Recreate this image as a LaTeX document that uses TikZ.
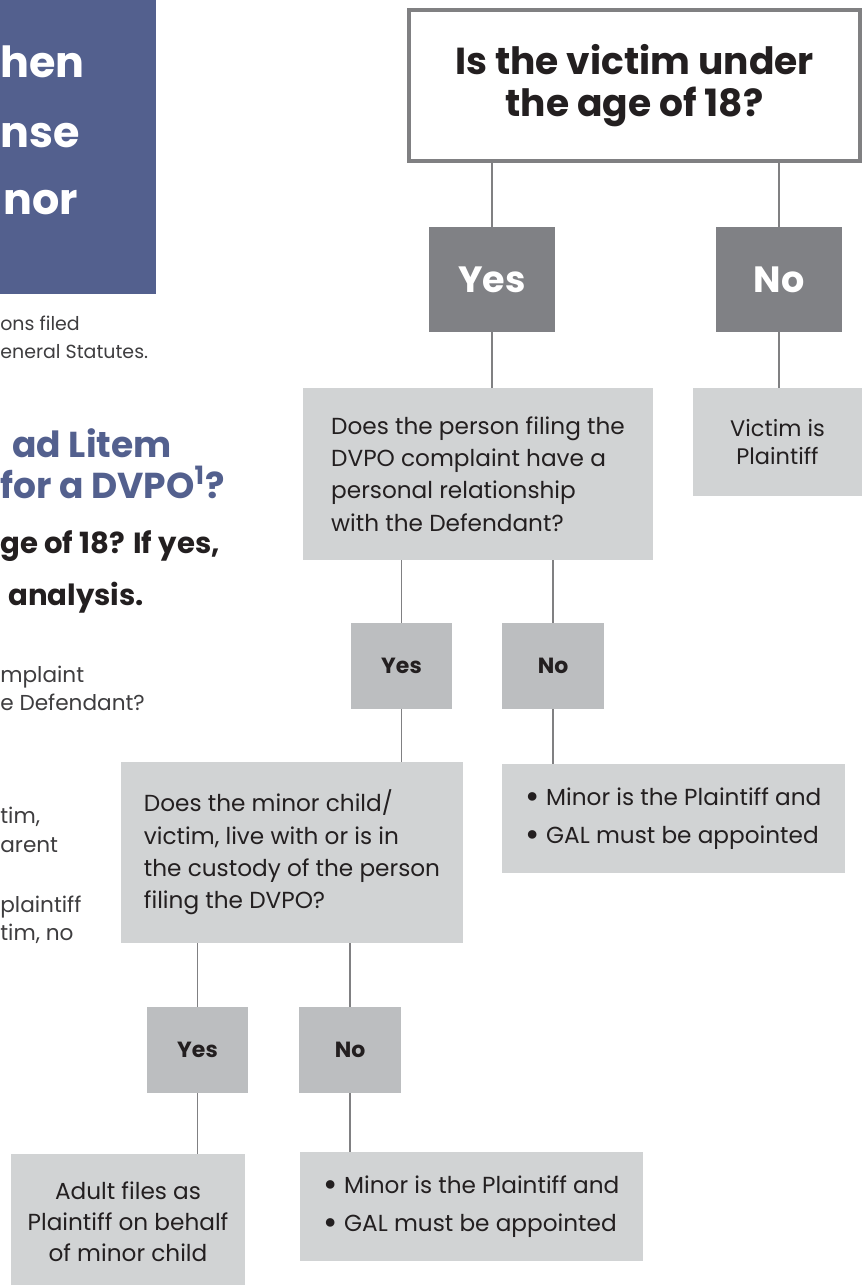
\documentclass[tikz,border=0pt]{standalone}
\usepackage{graphicx}
\usepackage{fontspec}
\setmainfont{Poppins}

\definecolor{panelblue}{RGB}{83,96,142}
\definecolor{darkbox}{RGB}{128,129,133}
\definecolor{midbox}{RGB}{188,190,192}
\definecolor{lightbox}{RGB}{209,211,212}
\definecolor{linegray}{RGB}{128,128,130}
\definecolor{inktext}{RGB}{35,31,32}
\definecolor{sidetext}{RGB}{62,61,63}

\newcommand{\listdot}{\raisebox{-0.15em}{\scalebox{1.5}{\textbullet}}}

\tikzset{
	bigq/.style={draw=linegray,line width=2.3pt,fill=white,align=center,
		minimum width=9.02cm,minimum height=3.02cm,text=inktext,
		font=\fontsize{21.4}{23.8}\selectfont\bfseries},
	bigans/.style={fill=darkbox,minimum width=2.52cm,minimum height=2.1cm,
		text=white,font=\fontsize{20.8}{24}\selectfont\bfseries},
	smallans/.style={fill=midbox,minimum width=2.03cm,minimum height=1.72cm,
		text=inktext,font=\fontsize{12.5}{15}\selectfont\bfseries},
	askbox/.style={fill=lightbox,align=left,text=inktext,
		font=\fontsize{13.2}{18.4}\selectfont},
	outbox/.style={fill=lightbox,align=center,text=inktext,
		font=\fontsize{13.2}{17.6}\selectfont},
	link/.style={draw=linegray,line width=1.1pt},
	sidenote/.style={anchor=base west,inner sep=0pt,text=sidetext,
		font=\fontsize{12.3}{14}\selectfont}
}

\begin{document}
\begin{tikzpicture}[x=0.02cm,y=-0.02cm]
	\useasboundingbox (0,0) rectangle (862,1285);

	% cut-off page on the left
	\fill[panelblue] (0,0) rectangle (156,294);
	\begin{scope}[every node/.style={anchor=base west,inner sep=0pt,text=white,
			font=\fontsize{24.4}{30}\selectfont\bfseries}]
		\node (headA) at (0,77) {hen};
		\node (headB) at (0,147) {nse};
		\node (headC) at (3,214) {nor};
	\end{scope}

	\node[sidenote,font=\fontsize{10.8}{14}\selectfont] (introA) at (0,330) {ons filed};
	\node[sidenote,font=\fontsize{10.8}{14}\selectfont] (introB) at (0,358) {eneral Statutes.};

	\begin{scope}[every node/.style={anchor=base west,inner sep=0pt,text=panelblue,
			font=\fontsize{20.5}{24}\selectfont\bfseries}]
		\node (askA) at (12,457) {ad Litem};
		\node (askB) at (0,498) {for a DVPO\textsuperscript{1}?};
	\end{scope}

	\begin{scope}[every node/.style={anchor=base west,inner sep=0pt,text=inktext,
			font=\fontsize{16.6}{20}\selectfont\bfseries}]
		\node (stepA) at (0,553) {ge of 18? If yes,};
		\node (stepB) at (8,605) {analysis.};
	\end{scope}

	\node[sidenote] (noteA) at (0,682) {mplaint};
	\node[sidenote] (noteB) at (0,710) {e Defendant?};
	\node[sidenote] (noteC) at (0,823) {tim,};
	\node[sidenote] (noteD) at (0,852) {arent};
	\node[sidenote] (noteE) at (0,912) {plaintiff};
	\node[sidenote] (noteF) at (0,940) {tim, no};

	% flow chart
	\node[bigq] (q0) at (634.5,85.5) {Is the victim under\\the age of 18?};

	\node[bigans] (yes1) at (492,279.5) {Yes};
	\node[bigans] (no1) at (779,279.5) {No};

	\node[askbox,minimum width=7cm,minimum height=3.44cm] (q1) at (478,474)
		{Does the person filing the\\DVPO complaint have a\\personal relationship\\with the Defendant?};
	\node[outbox,minimum width=3.38cm,minimum height=2.16cm,
		font=\fontsize{12.8}{16.4}\selectfont] (vic) at (777.5,442) {Victim is\\Plaintiff};

	\node[smallans] (yes2) at (401.5,666) {Yes};
	\node[smallans] (no2) at (553,666) {No};

	\node[askbox,minimum width=6.84cm,minimum height=3.62cm] (q2) at (292,852.5)
		{Does the minor child/\\victim, live with or is in\\the custody of the person\\filing the DVPO?};
	\node[askbox,minimum width=6.86cm,minimum height=2.18cm,
		font=\fontsize{13.2}{21.5}\selectfont] (res1) at (673.5,818.5)
		{\listdot\ Minor is the Plaintiff and\\\listdot\ GAL must be appointed};

	\node[smallans] (yes3) at (197.5,1050) {Yes};
	\node[smallans] (no3) at (350,1050) {No};

	\node[outbox,minimum width=4.68cm,minimum height=2.72cm] (adult) at (128,1222)
		{Adult files as\\Plaintiff on behalf\\of minor child};
	\node[askbox,minimum width=6.86cm,minimum height=2.18cm,
		font=\fontsize{13.2}{21.5}\selectfont] (res2) at (471.5,1206.5)
		{\listdot\ Minor is the Plaintiff and\\\listdot\ GAL must be appointed};

	\draw[link] (yes1.north |- q0.south) -- (yes1.north);
	\draw[link] (no1.north |- q0.south) -- (no1.north);
	\draw[link] (yes1.south) -- (yes1.south |- q1.north);
	\draw[link] (no1.south) -- (no1.south |- vic.north);
	\draw[link] (yes2.north |- q1.south) -- (yes2.north);
	\draw[link] (no2.north |- q1.south) -- (no2.north);
	\draw[link] (yes2.south) -- (yes2.south |- q2.north);
	\draw[link] (no2.south) -- (no2.south |- res1.north);
	\draw[link] (yes3.north |- q2.south) -- (yes3.north);
	\draw[link] (no3.north |- q2.south) -- (no3.north);
	\draw[link] (yes3.south) -- (yes3.south |- adult.north);
	\draw[link] (no3.south) -- (no3.south |- res2.north);
\end{tikzpicture}
\end{document}
